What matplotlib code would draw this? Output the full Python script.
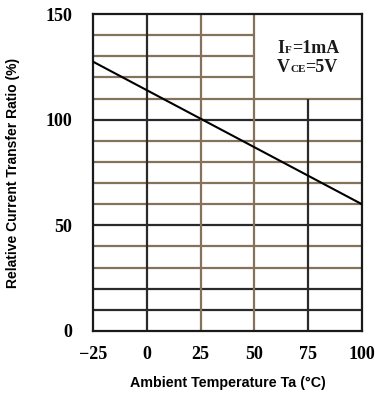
import numpy as np
import matplotlib
matplotlib.use("Agg")
import matplotlib.pyplot as plt

# data
temps = [-25, 0, 25, 50, 75, 100]
ctr = [127.5, 114, 100.5, 87, 73.5, 60]

x_ticks = [-25, 0, 25, 50, 75, 100]
x_tick_labels = ["\u221225", "0", "25", "50", "75", "100"]
y_ticks = [0, 50, 100, 150]

# grid lines: value, dark or brown
h_grid = [10, 20, 30, 40, 50, 60, 70, 80, 90, 100, 110, 120, 130, 140]
h_dark = [10, 20, 50, 100]
v_grid = [0, 25, 50, 75]
v_dark = [0, 75]

dark = "#2a2a2a"
brown = "#85725a"

fig = plt.figure(figsize=(3.75, 3.93), dpi=100)
ax = fig.add_axes([0.248, 0.158, 0.717, 0.806])

# horizontal grid, upper right area left blank for the conditions text
for v in h_grid:
    c = dark if v in h_dark else brown
    x_end = 50 if v > 110 else 100
    ax.hlines(v, -25, x_end, color=c, lw=1.6, zorder=1)

for v in v_grid:
    c = dark if v in v_dark else brown
    y_end = 110 if v == 75 else 150
    ax.vlines(v, 0, y_end, color=c, lw=1.6, zorder=1)

ax.plot(temps, ctr, color="black", lw=1.5, zorder=3)

ax.set_xlim(-25, 100)
ax.set_ylim(0, 150)
ax.set_xticks(x_ticks)
ax.set_xticklabels(x_tick_labels)
ax.set_yticks(y_ticks)
ax.tick_params(axis="x", length=0, pad=11)
ax.tick_params(axis="y", length=0, pad=15)
for lab in ax.get_xticklabels() + ax.get_yticklabels():
    lab.set_fontfamily("Liberation Serif")
    lab.set_fontweight("bold")
    lab.set_fontsize(13)

for s in ax.spines.values():
    s.set_linewidth(1.6)
    s.set_color("#1a1a1a")

ax.set_xlabel("Ambient Temperature Ta (\u00b0C)", fontfamily="Liberation Sans",
              fontweight="bold", fontsize=10.3, labelpad=9)
ax.set_ylabel("Relative Current Transfer Ratio (%)", fontfamily="Liberation Sans",
              fontweight="bold", fontsize=10, labelpad=18)

# conditions text
tk = dict(fontfamily="Liberation Serif", fontweight="bold", color="#1a1a1a", va="baseline")
ax.text(60.5, 131.5, "I", fontsize=13, **tk)
ax.text(64.2, 131.5, "F", fontsize=8, **tk)
ax.text(67.5, 131.5, "=1mA", fontsize=13, **tk)
ax.text(60.5, 122.5, "V", fontsize=13, **tk)
ax.text(66.8, 122.5, "CE", fontsize=8, **tk)
ax.text(73.5, 122.5, "=5V", fontsize=13, **tk)

fig.savefig("out.png", dpi=100)
